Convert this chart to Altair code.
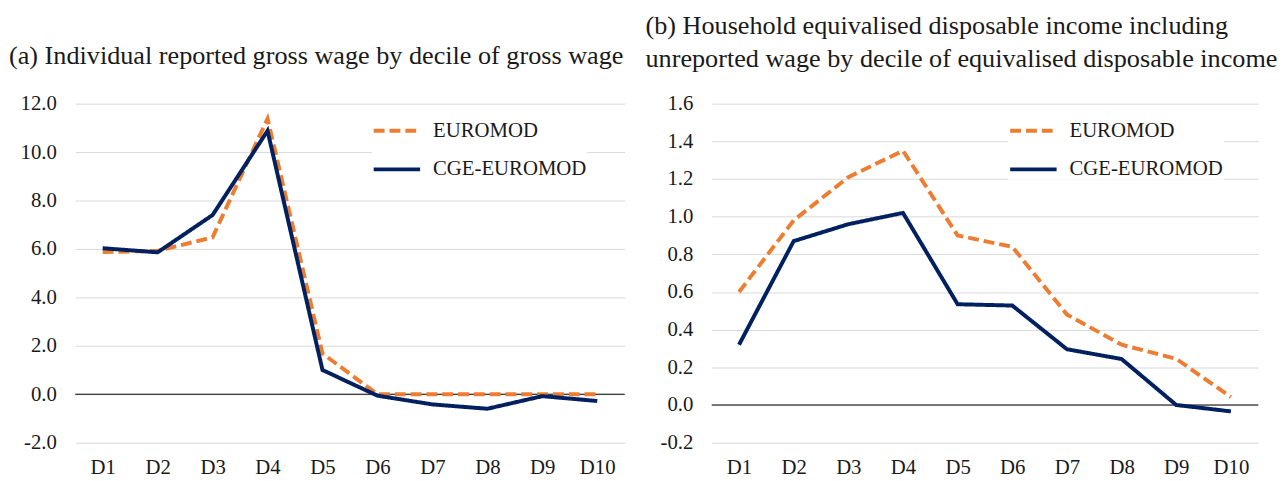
import altair as alt
import pandas as pd

deciles = ["D1", "D2", "D3", "D4", "D5", "D6", "D7", "D8", "D9", "D10"]
series = ["EUROMOD", "CGE-EUROMOD"]
colors = ["#ED7D31", "#002060"]
dashes = [[11, 5], [1, 0]]

a_euromod = [5.87, 5.92, 6.48, 11.38, 1.68, 0.0, 0.0, 0.0, 0.0, 0.0]
a_cge = [6.03, 5.86, 7.40, 10.88, 1.00, -0.06, -0.42, -0.60, -0.08, -0.28]
b_euromod = [0.60, 0.98, 1.21, 1.35, 0.90, 0.84, 0.48, 0.32, 0.245, 0.042]
b_cge = [0.32, 0.87, 0.96, 1.02, 0.535, 0.528, 0.296, 0.244, 0.0, -0.034]

a_ticks = [-2, 0, 2, 4, 6, 8, 10, 12]
b_ticks = [-0.2, 0.0, 0.2, 0.4, 0.6, 0.8, 1.0, 1.2, 1.4, 1.6]

title_a = "(a) Individual reported gross wage by decile of gross wage"
title_b = ["(b) Household equivalised disposable income including",
           "unreported wage by decile of equivalised disposable income"]

FONT = "Liberation Serif"
LABEL_EXPR = "datum.value < 0 ? '-' + format(-datum.value, '.1f') : format(datum.value, '.1f')"


def make_df(euromod, cge):
    rows = []
    for d, v in zip(deciles, euromod):
        rows.append({"decile": d, "series": "EUROMOD", "value": v})
    for d, v in zip(deciles, cge):
        rows.append({"decile": d, "series": "CGE-EUROMOD", "value": v})
    return pd.DataFrame(rows)


def panel(df, domain, ticks, width, title, title_offset):
    legend = alt.Legend(
        title=None, orient="none", legendX=300, legendY=2, direction="vertical",
        fillColor="white", padding=0, symbolType="stroke", symbolSize=2209,
        symbolStrokeWidth=4, labelFontSize=21, labelFont=FONT, labelColor="#1a1a1a",
        labelOffset=11, rowPadding=3,
    )
    x = alt.X("decile:O", sort=deciles, title=None,
              axis=alt.Axis(labelAngle=0, domain=False, ticks=False, grid=False,
                            labelPadding=14, labelFontSize=21, labelFont=FONT,
                            labelColor="#1a1a1a"))
    y = alt.Y("value:Q", title=None,
              scale=alt.Scale(domain=domain, nice=False, zero=False),
              axis=alt.Axis(values=ticks, tickCount=len(ticks) + 5, labelExpr=LABEL_EXPR,
                            domain=False, ticks=False,
                            grid=True, gridColor="#D9D9D9", gridWidth=1,
                            labelOverlap=False, labelPadding=19, labelFontSize=21,
                            labelFont=FONT, labelColor="#1a1a1a", minExtent=68))
    color = alt.Color("series:N", scale=alt.Scale(domain=series, range=colors), legend=legend)
    dash = alt.StrokeDash("series:N", scale=alt.Scale(domain=series, range=dashes), legend=legend)

    zero = alt.Chart(pd.DataFrame({"zero": [0.0]})).mark_rule(
        color="black", strokeWidth=1).encode(y=alt.Y("zero:Q", scale=alt.Scale(domain=domain)))
    l1 = alt.Chart(df).transform_filter(alt.datum.series == "EUROMOD").mark_line(
        strokeWidth=4, strokeCap="butt", strokeJoin="miter").encode(
        x=x, y=y, color=color, strokeDash=dash)
    l2 = alt.Chart(df).transform_filter(alt.datum.series == "CGE-EUROMOD").mark_line(
        strokeWidth=4, strokeCap="butt", strokeJoin="miter").encode(
        x=x, y=y, color=color, strokeDash=dash)

    return alt.layer(zero, l1, l2).properties(
        width=width, height=343,
        title=alt.TitleParams(text=title, anchor="start", frame="group", align="left",
                              dx=-67, offset=title_offset, fontSize=26.5, font=FONT,
                              fontWeight="normal", color="#1a1a1a", lineHeight=33),
    )


pa = panel(make_df(a_euromod, a_cge), [-2, 12], a_ticks, 556, title_a, 24)
pb = panel(make_df(b_euromod, b_cge), [-0.2, 1.6], b_ticks, 553, title_b, 21)

chart = alt.hconcat(pa, pb, spacing=88, bounds="flush").resolve_scale(
    color="independent", strokeDash="independent", y="independent"
).configure_view(stroke=None).properties(padding={"top": 2, "left": 0, "right": 0, "bottom": 0})

chart.save("out.html", embed_options={"renderer": "svg", "actions": False})
